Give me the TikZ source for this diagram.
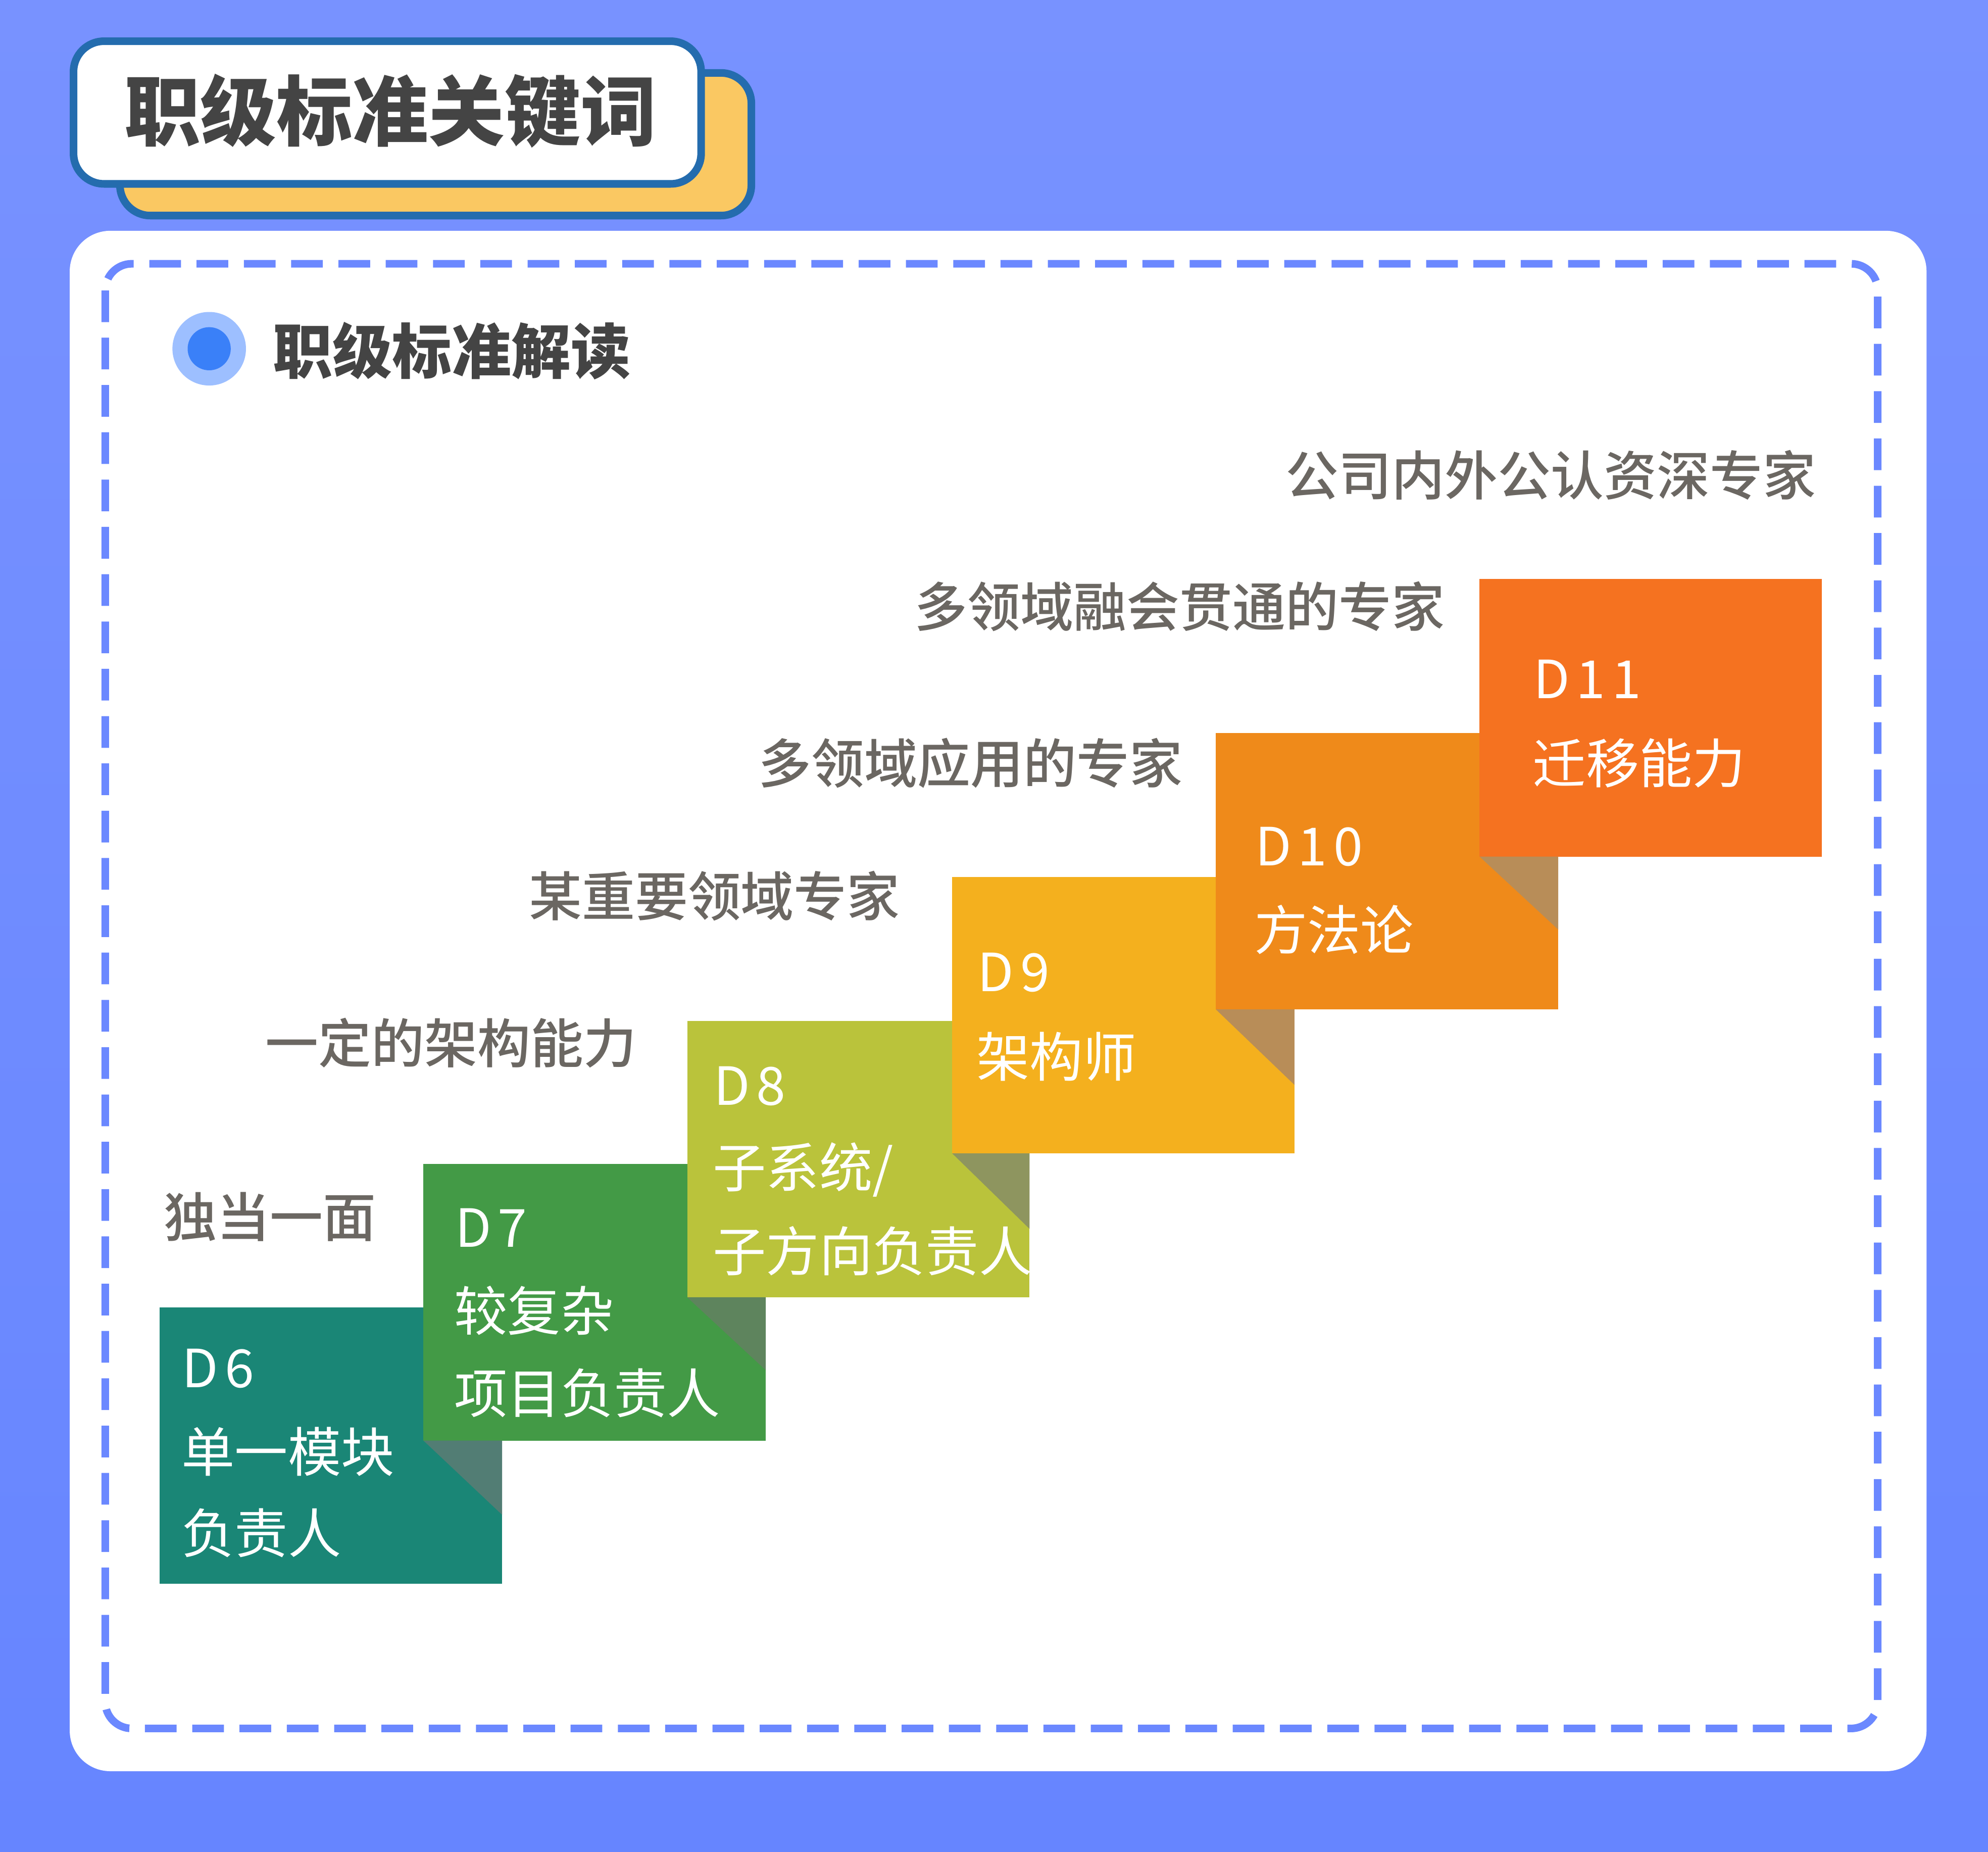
\documentclass[tikz,border=0pt]{standalone}
\usepackage{fontspec}
\usetikzlibrary{calc}
\setmainfont{Noto Sans CJK SC}
\IfFontExistsTF{Noto Sans CJK SC Medium}{\newfontfamily\medfont{Noto Sans CJK SC Medium}}{\newfontfamily\medfont{Noto Sans CJK SC}}
\newfontfamily\dfont{Noto Sans CJK SC}[LetterSpace=12]
\definecolor{bgtop}{RGB}{120,146,255}
\definecolor{bgbot}{RGB}{102,133,255}
\definecolor{boxblue}{RGB}{36,108,174}
\definecolor{ttlyellow}{RGB}{250,200,98}
\definecolor{ttltext}{RGB}{68,68,68}
\definecolor{dashcol}{RGB}{107,136,255}
\definecolor{bulout}{RGB}{157,191,255}
\definecolor{bulin}{RGB}{58,128,248}
\definecolor{lblgray}{RGB}{107,103,98}
\definecolor{c6}{RGB}{26,134,118}
\definecolor{c7}{RGB}{67,154,70}
\definecolor{c8}{RGB}{186,195,59}
\definecolor{c9}{RGB}{244,176,30}
\definecolor{c10}{RGB}{239,138,26}
\definecolor{c11}{RGB}{245,114,32}
\definecolor{s6}{RGB}{82,125,116}
\definecolor{s7}{RGB}{94,132,93}
\definecolor{s8}{RGB}{142,149,95}
\definecolor{s9}{RGB}{184,141,88}
\definecolor{s10}{RGB}{184,141,88}
\begin{document}
\begin{tikzpicture}[x=1pt,y=-1pt,
  lbl/.style={anchor=west,inner sep=0pt,text=lblgray,font=\medfont\fontsize{41.8}{50}\selectfont},
  btxt/.style={anchor=west,inner sep=0pt,text=white,font=\fontsize{42}{50}\selectfont},
  dtxt/.style={anchor=west,inner sep=0pt,text=white,font=\dfont\fontsize{41.5}{50}\selectfont},
  stepbox/.style={fill=#1,draw=none,inner sep=0pt,outer sep=0pt,anchor=north west,minimum width=270pt,minimum height=218pt},
  ttlbox/.style={line width=6pt,draw=boxblue,rounded corners=24pt}
  ]
\useasboundingbox (0,0) rectangle (1568,1460.4);
\shade[top color=bgtop,bottom color=bgbot] (0,0) rectangle (1568,1460.4);
% title
\draw[ttlbox,fill=ttlyellow] (94.6,57.5) rectangle (592.6,170);
\draw[ttlbox,fill=white] (58,32.5) rectangle (553,145);
\node[inner sep=0pt,text=ttltext,font=\bfseries\fontsize{60}{70}\selectfont] (title) at (308,87.5) {职级标准关键词};
% panel
\fill[white,rounded corners=32pt] (55,182) rectangle (1519.5,1396.7);
\draw[dashcol,line width=6pt,dash pattern=on 25pt off 12.3pt,rounded corners=21pt] (83,208) rectangle (1481,1363);
% bullet + subtitle
\fill[bulout] (165,275) circle (29pt);
\fill[bulin] (165,275) circle (17pt);
\node[inner sep=0pt,text=ttltext,font=\bfseries\fontsize{47}{55}\selectfont] (sub) at (356.5,276.8) {职级标准解读};
% boxes
\node[stepbox=c6] (d6) at (126,1031) {};
\node[stepbox=c7] (d7) at (334,918) {};
\fill[s6] (d7.south west) -- (d7.south west -| d6.east) -- ($(d7.south west -| d6.east)+(0,58.5)$) -- cycle;
\node[stepbox=c8] (d8) at (542,805) {};
\fill[s7] (d8.south west) -- (d8.south west -| d7.east) -- ($(d8.south west -| d7.east)+(0,57.5)$) -- cycle;
\node[stepbox=c9] (d9) at (751,691.5) {};
\fill[s8] (d9.south west) -- (d9.south west -| d8.east) -- ($(d9.south west -| d8.east)+(0,59.5)$) -- cycle;
\node[stepbox=c10] (d10) at (959,578) {};
\fill[s9] (d10.south west) -- (d10.south west -| d9.east) -- ($(d10.south west -| d9.east)+(0,59.5)$) -- cycle;
\node[stepbox=c11,minimum height=219pt] (d11) at (1167,456.5) {};
\fill[s10] (d11.south west) -- (d11.south west -| d10.east) -- ($(d11.south west -| d10.east)+(0,57.5)$) -- cycle;
% box texts
\node[dtxt] (t6a) at (143.6,1079) {D6};
\node[btxt] (t6b) at (143,1144.7) {单一模块};
\node[btxt] (t6c) at (143,1209) {负责人};
\node[dtxt] (t7a) at (358.8,968) {D7};
\node[btxt] (t7b) at (358,1033.6) {较复杂};
\node[btxt] (t7c) at (358,1098.5) {项目负责人};
\node[dtxt] (t8a) at (563,856.5) {D8};
\node[btxt] (t8b) at (562,922.5) {子系统/};
\node[btxt] (t8c) at (562,986.6) {子方向负责人};
\node[dtxt] (t9a) at (771,767) {D9};
\node[btxt] (t9b) at (770,833) {架构师};
\node[dtxt] (t10a) at (990,667.5) {D10};
\node[btxt] (t10b) at (989,733) {方法论};
\node[dtxt] (t11a) at (1209.5,535.4) {D11};
\node[btxt] (t11b) at (1208.7,601.8) {迁移能力};
% labels
\node[lbl] (l6) at (129,959.4) {独当一面};
\node[lbl] (l7) at (209.3,822.6) {一定的架构能力};
\node[lbl] (l8) at (417,706.5) {某重要领域专家};
\node[lbl] (l9) at (598,601.7) {多领域应用的专家};
\node[lbl] (l10) at (721.2,478.3) {多领域融会贯通的专家};
\node[lbl] (l11) at (1014,374.7) {公司内外公认资深专家};
\end{tikzpicture}
\end{document}
